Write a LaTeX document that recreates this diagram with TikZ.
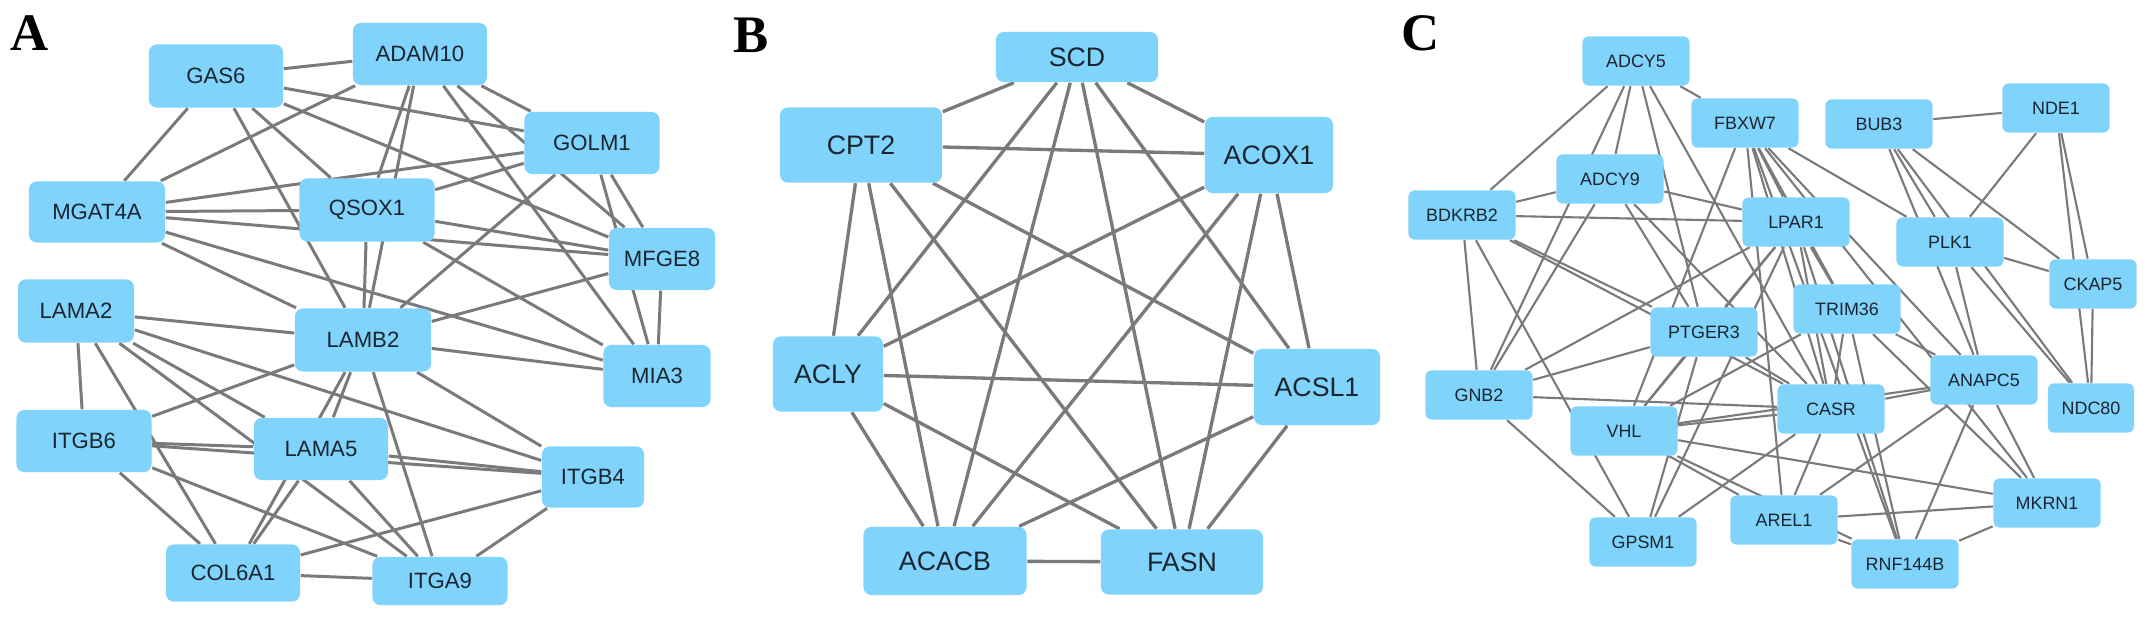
\documentclass[tikz,border=0pt]{standalone}
\usepackage{fontspec}
\setmainfont{Liberation Serif}
\setsansfont{Liberation Sans}
\usetikzlibrary{backgrounds}
\definecolor{nodeblue}{HTML}{80D3FA}
\definecolor{edgegray}{HTML}{7A7A7A}
\definecolor{ink}{HTML}{1B2530}

\begin{document}
\begin{tikzpicture}[x=0.01cm,y=-0.01cm,font=\sffamily,
  gene/.style={fill=nodeblue,rounded corners=2.2pt,text=ink,inner sep=0pt},
  link/.style={draw=edgegray,line width=#1},
  panel/.style={font=\rmfamily\bfseries\fontsize{15}{15}\selectfont}]
  \useasboundingbox (0,0) rectangle (2150,618);
  \node[panel] (labA) at (30,33) {A};
  \node[panel] (labB) at (751,35) {B};
  \node[panel] (labC) at (1421,33) {C};

  \foreach \name/\x/\y/\w/\h/\txt in {
    gas6/216/76/13.4/6.3/GAS6, adam10/420/54/13.4/6.2/ADAM10,
    golm1/592/143/13.5/6.2/GOLM1, mgat4a/97/212/13.6/6.1/MGAT4A,
    qsox1/367/210/13.5/6.3/QSOX1, mfge8/662/259/10.6/6.2/MFGE8,
    lama2/76/311/11.6/6.3/LAMA2, lamb2/363/340/13.6/6.3/LAMB2,
    mia3/657/376/10.7/6.2/MIA3, itgb6/84/441/13.5/6.2/ITGB6,
    lama5/321/449/13.4/6.2/LAMA5, itgb4/593/477/10.2/6.1/ITGB4,
    col6a1/233/573/13.4/5.7/COL6A1, itga9/440/581/13.5/4.8/ITGA9} {
    \node[gene,minimum width=\w mm,minimum height=\h mm,
      font=\sffamily\fontsize{6.3}{7}\selectfont] (\name) at (\x,\y) {\txt};
  }

  \foreach \name/\x/\y/\w/\h/\txt in {
    scd/1077/57/16.2/5.0/SCD, cpt2/861/145/16.2/7.5/CPT2,
    acox1/1269/155/12.8/7.6/ACOX1, acly/828/374/11.0/7.5/ACLY,
    acsl1/1317/387/12.6/7.6/ACSL1, acacb/945/561/16.3/6.8/ACACB,
    fasn/1182/562/16.2/6.5/FASN} {
    \node[gene,minimum width=\w mm,minimum height=\h mm,
      font=\sffamily\fontsize{7.6}{8.5}\selectfont] (\name) at (\x,\y) {\txt};
  }

  \foreach \name/\x/\y/\w/\txt in {
    adcy5/1636/61/10.7/ADCY5, fbxw7/1745/123/10.7/FBXW7,
    adcy9/1610/179/10.7/ADCY9, bdkrb2/1462/215/10.7/BDKRB2,
    lpar1/1796/222/10.7/LPAR1, bub3/1879/124/10.7/BUB3,
    nde1/2056/108/10.7/NDE1, plk1/1950/242/10.7/PLK1,
    ckap5/2093/284/8.7/CKAP5, trim36/1847/309/10.7/TRIM36,
    ptger3/1704/332/10.7/PTGER3, gnb2/1479/395/10.7/GNB2,
    vhl/1624/431/10.7/VHL, gpsm1/1643/542/10.7/GPSM1,
    arel1/1784/520/10.7/AREL1, casr/1831/409/10.7/CASR,
    anapc5/1984/380/10.7/ANAPC5, ndc80/2091/408/8.6/NDC80,
    mkrn1/2047/503/10.7/MKRN1, rnf144b/1905/564/10.7/RNF144B} {
    \node[gene,rounded corners=1.7pt,minimum width=\w mm,minimum height=4.9mm,
      font=\sffamily\fontsize{5.1}{6}\selectfont] (\name) at (\x,\y) {\txt};
  }

  \begin{scope}[on background layer]
    \foreach \a/\b in {
      gas6/adam10, gas6/mgat4a, gas6/golm1, gas6/mfge8, gas6/lamb2, gas6/qsox1,
      adam10/mgat4a, adam10/golm1, adam10/qsox1, adam10/lamb2, adam10/mfge8, adam10/mia3,
      golm1/mgat4a, golm1/qsox1, golm1/lamb2, golm1/mfge8, golm1/mia3,
      mgat4a/qsox1, mgat4a/mfge8, mgat4a/mia3, mgat4a/lamb2,
      qsox1/mfge8, qsox1/mia3, qsox1/lamb2, mfge8/mia3,
      lamb2/mfge8, lamb2/mia3, lamb2/itgb4, lamb2/lama2, lamb2/itgb6,
      lamb2/lama5, lamb2/col6a1, lamb2/itga9,
      lama2/itgb6, lama2/col6a1, lama2/lama5, lama2/itga9, lama2/itgb4,
      itgb6/lama5, itgb6/itgb4, itgb6/col6a1, itgb6/itga9,
      lama5/col6a1, lama5/itga9, lama5/itgb4,
      col6a1/itga9, col6a1/itgb4, itga9/itgb4}
      \draw[link=0.85pt] (\a) -- (\b);

    \foreach \a/\b in {
      scd/cpt2, scd/acox1, scd/acly, scd/acacb, scd/fasn, scd/acsl1,
      cpt2/acox1, cpt2/acly, cpt2/acacb, cpt2/fasn, cpt2/acsl1,
      acox1/acly, acox1/acacb, acox1/fasn, acox1/acsl1,
      acly/acsl1, acly/acacb, acly/fasn,
      acsl1/acacb, acsl1/fasn, acacb/fasn}
      \draw[link=0.95pt] (\a) -- (\b);

    \foreach \a/\b in {
      adcy5/bdkrb2, adcy5/gnb2, adcy5/adcy9, adcy5/ptger3, adcy5/casr, adcy5/fbxw7,
      bdkrb2/adcy9, bdkrb2/lpar1, bdkrb2/gnb2, bdkrb2/gpsm1, bdkrb2/ptger3, bdkrb2/casr,
      adcy9/lpar1, adcy9/gnb2, adcy9/ptger3, adcy9/casr,
      fbxw7/lpar1, fbxw7/trim36, fbxw7/casr, fbxw7/anapc5, fbxw7/arel1,
      fbxw7/rnf144b, fbxw7/plk1, fbxw7/vhl, fbxw7/mkrn1,
      lpar1/gnb2, lpar1/gpsm1, lpar1/ptger3, lpar1/trim36, lpar1/casr,
      lpar1/rnf144b, lpar1/vhl,
      bub3/nde1, bub3/plk1, bub3/anapc5, bub3/ndc80, bub3/ckap5,
      nde1/plk1, nde1/ckap5, nde1/ndc80,
      plk1/ckap5, plk1/anapc5, plk1/ndc80, ckap5/ndc80,
      trim36/casr, trim36/anapc5, trim36/mkrn1, trim36/rnf144b, trim36/vhl,
      ptger3/gnb2, ptger3/vhl, ptger3/gpsm1, ptger3/casr,
      gnb2/casr, gnb2/gpsm1,
      vhl/casr, vhl/anapc5, vhl/mkrn1, vhl/arel1, vhl/rnf144b,
      gpsm1/casr, casr/anapc5, casr/arel1,
      anapc5/mkrn1, anapc5/rnf144b, anapc5/arel1,
      arel1/mkrn1, arel1/rnf144b, mkrn1/rnf144b}
      \draw[link=0.6pt] (\a) -- (\b);
  \end{scope}
\end{tikzpicture}
\end{document}
